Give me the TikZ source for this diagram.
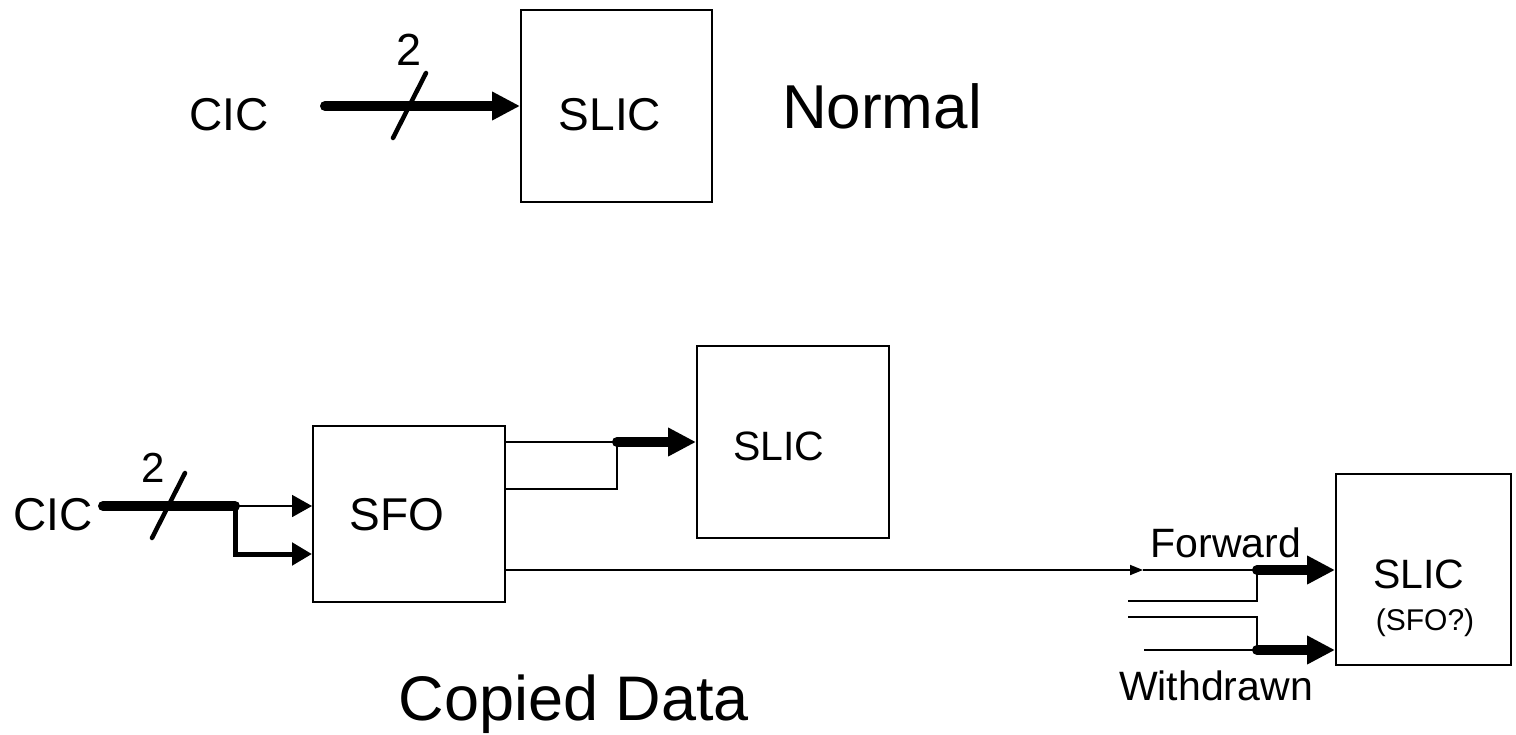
\documentclass[tikz,border=0pt]{standalone}
\usepackage{fontspec}
\setmainfont{Liberation Sans}
\usetikzlibrary{arrows.meta}
\tikzset{
  box/.style={draw, line width=2pt, inner sep=0pt},
  lbl/.style={inner sep=0pt, anchor=base},
  wire/.style={line width=1.8pt},
  bus/.style={line width=10pt, line cap=round},
  midbus/.style={line width=5pt},
  slashmark/.style={line width=4.5pt, line cap=round},
  bighead/.style={-{Triangle[length=28pt,width=27pt]}},
  smallhead/.style={-{Triangle[length=20pt,width=22pt]}},
  tinyhead/.style={-{Triangle[length=13pt,width=10pt]}},
}
\newcommand{\fs}[1]{\fontsize{#1}{#1}\selectfont}
\begin{document}
\begin{tikzpicture}[x=1pt,y=-1pt]
\useasboundingbox (0,0) rectangle (1516,734);

% ---------- Normal ----------
\node[box, minimum width=191pt, minimum height=192pt] (slicA) at (616.5,106) {};
\node[lbl, font=\fs{46}] (cicA) at (229,130) {CIC};
\node[lbl, font=\fs{46}] (slicAt) at (610,130) {SLIC};
\node[lbl, font=\fs{62}] (normal) at (882,128) {Normal};
\node[lbl, font=\fs{45}] (twoA) at (409,65) {2};
\coordinate (busA) at (325,106);
\draw[bus, bighead] (busA) -- (slicA.west);
\draw[slashmark] (393,138) -- (426,73);

% ---------- Copied Data ----------
\node[box, minimum width=192pt, minimum height=176pt] (sfo) at (409,514) {};
\node[box, minimum width=192pt, minimum height=192pt] (slicB) at (793,442) {};
\node[box, minimum width=175pt, minimum height=191pt] (slicC) at (1423.5,569.5) {};

\node[lbl, font=\fs{46}] (cicB) at (53,530) {CIC};
\node[lbl, font=\fs{42}] (twoB) at (153,482) {2};
\node[lbl, font=\fs{46}] (sfot) at (397,530) {SFO};
\node[lbl, font=\fs{41}] (slicBt) at (779,460) {SLIC};
\node[lbl, font=\fs{41}] (slicCt) at (1419,588) {SLIC};
\node[lbl, font=\fs{30}] (sfoq) at (1425,630) {(SFO?)};
\node[lbl, font=\fs{41}] (fwd) at (1226,557) {Forward};
\node[lbl, font=\fs{41}] (wdr) at (1216,700) {Withdrawn};
\node[lbl, font=\fs{63}] (copied) at (574,720) {Copied Data};

% input side
\coordinate (cicBout) at (103,506);
\coordinate (jB) at (235,506);
\coordinate (jB2) at (235,554);
\draw[bus] (cicBout) -- (jB);
\draw[slashmark] (152,538) -- (185,473);
\draw[wire, smallhead] (jB) -- (jB -| sfo.west);
\draw[midbus, smallhead] (jB) -- (jB2) -- (jB2 -| sfo.west);

% SFO to SLIC
\coordinate (o1) at (505,442);
\coordinate (o2) at (505,489);
\coordinate (jS) at (617,442);
\draw[wire] (o1) -- (jS);
\draw[wire] (o2) -- (o2 -| jS) -- (jS);
\draw[bus, bighead] (jS) -- (jS -| slicB.west);

% SFO to far SLIC
\coordinate (o3) at (505,570);
\coordinate (fin) at (1143,570);
\coordinate (jF) at (1257,570);
\coordinate (jW) at (1257,650);
\coordinate (l2) at (1128,601);
\coordinate (l3) at (1128,617);
\coordinate (l4) at (1144,650);
\draw[wire, tinyhead] (o3) -- (fin);
\draw[wire] (fin) -- (jF);
\draw[wire] (l2) -- (l2 -| jF) -- (jF);
\draw[wire] (l3) -- (l3 -| jW) -- (jW);
\draw[wire] (l4) -- (jW);
\draw[bus, bighead] (jF) -- (jF -| slicC.west);
\draw[bus, bighead] (jW) -- (jW -| slicC.west);
\end{tikzpicture}
\end{document}
